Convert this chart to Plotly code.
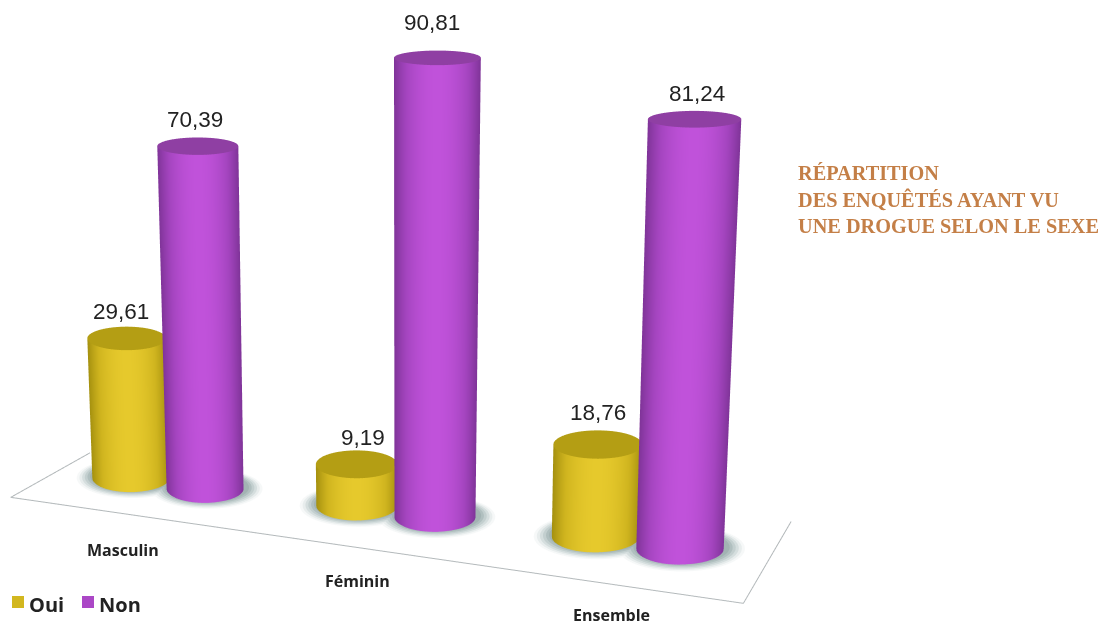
import numpy as np
import plotly.graph_objects as go

categories = ["Masculin", "Féminin", "Ensemble"]
oui = [29.61, 9.19, 18.76]
non = [70.39, 90.81, 81.24]
series_names = ["Oui", "Non"]
title_lines = ["RÉPARTITION", "DES ENQUÊTÉS AYANT VU", "UNE DROGUE SELON LE SEXE"]

# scene placement of the three groups (floor units)
group_x = [0.512, 1.425, 2.40]
group_y = [0.42, 0.48, 0.525]
group_scale = [0.95, 1.0, 1.08]
oui_height = [0.935, 0.92, 0.985]
non_height = [0.96, 1.0, 1.05]
oui_lift = [5.3, 5.3, 6.3]
non_lift = [5.3, 6.9, 5.0]
oui_shift = [-6, 6, 0]
non_shift = [-3, -6, 2]
label_x = [0.61, 1.56, 2.59]
label_y = [-0.43, -0.40, -0.37]
floor_x = [0.11, 0.008, 3.007, 2.85]
floor_y = [0.67, 0, 0, 1.06]

OFF = 0.16
FLAT = dict(ambient=1, diffuse=0, specular=0, fresnel=0)
# pixels on screen per floor unit, used to keep the ellipses level on screen
INV = np.linalg.inv(np.array([[259.6, 86.3], [-37.5, 76.4]]))


def lean(cx, z):
    return 0.06 * (cx - 1.4) * z / 100


def half_w(k, z):
    return 43 * k * (1 + 0.08 * z / 100)


def half_h(k, z):
    return 15.5 * k * (1 - 0.55 * z / 100)


def offsets(a, b, t):
    sx, sy = a * np.cos(t), b * np.sin(t)
    return INV[0, 0] * sx + INV[0, 1] * sy, INV[1, 0] * sx + INV[1, 1] * sy


def cylinder(cx, cy, k, value, scale, name):
    t = np.linspace(0, 2 * np.pi, 121)
    zz = np.linspace(0, value, 12)
    T, Z = np.meshgrid(t, zz)
    dx, dy = offsets(half_w(k, Z), half_h(k, Z), T)
    S = np.clip(-np.sin(T), 0, 1) ** 2
    return go.Surface(x=cx + lean(cx, Z) + dx, y=cy + dy, z=Z, surfacecolor=S, colorscale=scale, cmin=0, cmax=1,
                      showscale=False, showlegend=False, name=name, lighting=FLAT, hoverinfo="skip")


def disc(cx, cy, a, b, z, color):
    t = np.linspace(0, 2 * np.pi, 73)[:-1]
    n = len(t)
    dx, dy = offsets(a, b, t)
    X = np.concatenate([[cx], cx + dx])
    Y = np.concatenate([[cy], cy + dy])
    Z = np.full(X.shape, float(z))
    return go.Mesh3d(x=X, y=Y, z=Z, i=[0] * n, j=list(range(1, n + 1)), k=[q % n + 1 for q in range(1, n + 1)],
                     color=color, flatshading=True, showlegend=False, lighting=FLAT, hoverinfo="skip")


yellow = [[0, "#a4900f"], [0.5, "#d0b51f"], [1, "#e6c92c"]]
purple = [[0, "#7f3498"], [0.5, "#a545c0"], [1, "#c052da"]]
shadow_steps = [(1.45, "#f6f8f8"), (1.38, "#e8eded"), (1.31, "#d5dede"), (1.24, "#c3cfcf"),
                (1.17, "#b0bfbf"), (1.1, "#a2b3b3")]

fig = go.Figure()
fig.add_trace(go.Scatter3d(x=floor_x, y=floor_y, z=[0] * 4, mode="lines",
                           line=dict(color="#b4b9bb", width=2), showlegend=False, hoverinfo="skip"))

annotations = []
for i, cat in enumerate(categories):
    k = group_scale[i]
    pair = [(group_x[i] - OFF * k, oui[i], oui_height[i], oui_lift[i], oui_shift[i], yellow, "#b49e14", "Oui"),
            (group_x[i] + OFF * k, non[i], non_height[i], non_lift[i], non_shift[i], purple, "#8f3fa3", "Non")]
    for cx, v, h, lift, sh, scale, top, nm in pair:
        for n, (f, col) in enumerate(shadow_steps):
            fig.add_trace(disc(cx, group_y[i] + 0.02, f * half_w(k, 0), f * half_h(k, 0), 0.05 * (n + 1), col))
    for cx, v, h, lift, sh, scale, top, nm in pair:
        zt = v * h
        fig.add_trace(cylinder(cx, group_y[i], k, zt, scale, nm))
        fig.add_trace(disc(cx + lean(cx, zt), group_y[i], half_w(k, zt), half_h(k, zt), zt, top))
        annotations.append(dict(x=cx + lean(cx, zt), y=group_y[i], z=min(zt + lift, 100), xshift=sh,
                                text=f"{v:.2f}".replace(".", ","), showarrow=False,
                                font=dict(family="Liberation Sans", size=22.5, color="#222")))
    annotations.append(dict(x=label_x[i], y=label_y[i], z=0, text=f"<b>{cat}</b>", showarrow=False,
                            font=dict(family="Open Sans", size=16, color="#222")))

d = 3.0
direction = np.array([0.35, -0.866, 0.358])
center = np.array([0.0375, -0.0314, -0.1126])
eye = center + d * direction

page = [dict(xref="paper", yref="paper", x=798 / 1103, y=1 - (173 + 26.5 * n) / 625, xanchor="left", yanchor="middle",
             xshift=-2, text=f"<b>{line}</b>", showarrow=False,
             font=dict(family="Liberation Serif", size=20.3, color="#c47f47"))
        for n, line in enumerate(title_lines)]
page += [dict(xref="paper", yref="paper", x=px / 1103, y=1 - 604 / 625, xanchor="left", yanchor="middle", showarrow=False,
              text=f"<b>{nm}</b>", font=dict(family="Open Sans", size=20, color="#222"))
         for px, nm in zip([27, 97], series_names)]
squares = [dict(type="rect", xref="paper", yref="paper", x0=x0 / 1103, x1=(x0 + 12) / 1103, y0=1 - 608 / 625, y1=1 - 596 / 625,
                line=dict(width=0), fillcolor=col)
           for x0, col in zip([12, 82], ["#d2b71f", "#ab47c6"])]

hidden = dict(visible=False)
fig.update_layout(
    width=1103, height=625, margin=dict(l=0, r=0, t=0, b=0), paper_bgcolor="white", showlegend=False,
    scene=dict(
        domain=dict(x=[0, 0.74], y=[0, 1]),
        xaxis=dict(hidden, range=[0, 3.01]), yaxis=dict(hidden, range=[-0.6, 1.2]), zaxis=dict(hidden, range=[0, 100]),
        aspectmode="manual", aspectratio=dict(x=2.538, y=1.248, z=1.74),
        camera=dict(eye=dict(x=eye[0], y=eye[1], z=eye[2]), center=dict(x=center[0], y=center[1], z=center[2]),
                    up=dict(x=0, y=0, z=1), projection=dict(type="orthographic")),
        annotations=annotations,
    ),
    annotations=page,
    shapes=squares,
)
fig.write_html("out.html", config=dict(displayModeBar=False), post_script="document.body.style.margin='0';")
